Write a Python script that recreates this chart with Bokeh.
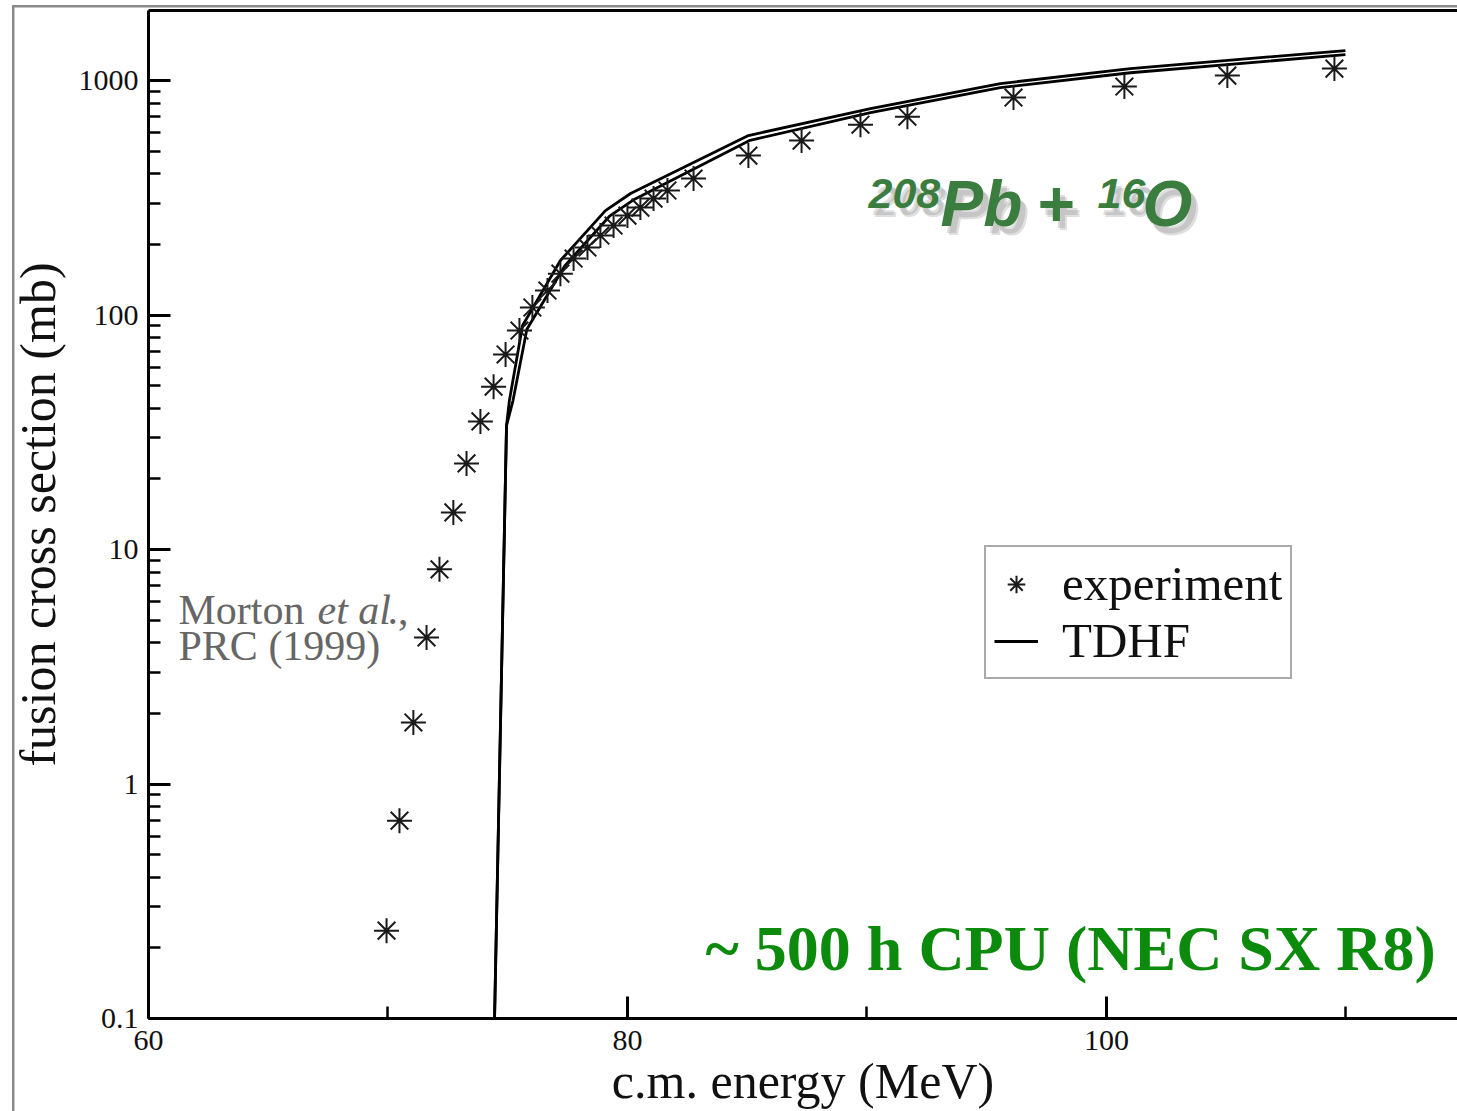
import numpy as np
from bokeh.plotting import figure
from bokeh.models import (Range1d, FixedTicker, CustomJSTickFormatter, LinearAxis,
                          Label, Legend, LegendItem)
from bokeh.embed import file_html
from bokeh.resources import INLINE

# Measured fusion cross sections (Morton et al., PRC 1999)
exp_energy = [69.94, 70.48, 71.06, 71.61, 72.15, 72.73, 73.28, 73.86, 74.41, 74.91,
              75.49, 76.03, 76.66, 77.20, 77.75, 78.33, 78.87, 79.42, 80.00, 80.54,
              81.09, 81.67, 82.76, 85.05, 87.27, 89.73, 91.69, 96.12, 100.75, 105.05,
              109.52]
exp_sigma = [0.237, 0.698, 1.83, 4.22, 8.23, 14.4, 23.3, 35.2, 49.5, 67.9,
             85.9, 107.7, 127.2, 150.2, 174.2, 194.0, 218.4, 240.9, 265.6, 287.3,
             313.8, 339.8, 382.0, 478.6, 554.6, 648.4, 701.5, 846.7, 942.9, 1050.0,
             1125.0]

# TDHF fusion cross sections (two close calculations)
tdhf_energy_a = [74.45, 74.95, 75.07, 75.62, 77.20, 79.08, 80.13, 85.05, 90.15, 95.57, 101.00, 109.98]
tdhf_sigma_a = [0.1, 33.8, 43.2, 90.2, 170.8, 279.0, 330.0, 583.0, 760.0, 971.0, 1125.0, 1343.0]
tdhf_energy_b = [74.45, 74.95, 75.22, 75.80, 77.38, 79.25, 80.30, 85.12, 90.15, 95.57, 101.00, 109.98]
tdhf_sigma_b = [0.1, 33.8, 43.2, 87.0, 162.0, 264.0, 312.0, 556.0, 730.0, 933.0, 1080.0, 1290.0]

x_major_ticks = [60, 80, 100]
x_minor_ticks = [70, 90, 110]
y_major_ticks = [0.1, 1, 10, 100, 1000]
y_minor_ticks = [k * 10.0 ** d for d in range(-1, 4) for k in range(2, 10) if k * 10.0 ** d < 2000]

X0, X1 = 60, 114.66
Y0, Y1 = 0.1, 1990

p = figure(width=1457, height=1111, y_axis_type="log",
           x_range=Range1d(X0, X1), y_range=Range1d(Y0, Y1),
           output_backend="svg", toolbar_location=None,
           min_border_left=148, min_border_right=0, min_border_top=10, min_border_bottom=93,
           background_fill_color="white", border_fill_color=None)
# thin gray page frame along the left and top edges
p.styles = {"background-color": "white",
            "box-shadow": "inset 12px 5px 0 0 white, inset 14.5px 7.5px 0 0 #8a8a8a"}
p.outline_line_color = None
p.xgrid.visible = False
p.ygrid.visible = False

SERIF = "Liberation Serif"


def style_axis(ax):
    ax.axis_line_width = 3
    ax.axis_line_color = "black"
    ax.major_tick_in = 22
    ax.major_tick_out = 0
    ax.minor_tick_in = 12
    ax.minor_tick_out = 0
    ax.major_tick_line_width = 3
    ax.minor_tick_line_width = 2.5
    ax.major_tick_line_color = "black"
    ax.minor_tick_line_color = "black"
    ax.major_label_text_font = SERIF
    ax.major_label_text_font_size = "30px"
    ax.major_label_text_color = "#111111"
    ax.axis_label_text_font = SERIF
    ax.axis_label_text_font_size = "50px"
    ax.axis_label_text_font_style = "normal"
    ax.axis_label_text_color = "#111111"


xa = p.xaxis[0]
xa.ticker = FixedTicker(ticks=x_major_ticks, minor_ticks=x_minor_ticks)
style_axis(xa)
xa.major_label_standoff = 12
xa.axis_label = "c.m. energy (MeV)"
xa.axis_label_standoff = 0

ya = p.yaxis[0]
ya.ticker = FixedTicker(ticks=y_major_ticks, minor_ticks=y_minor_ticks)
ya.formatter = CustomJSTickFormatter(code="return tick.toString();")
style_axis(ya)
ya.major_label_standoff = 10
ya.axis_label = "fusion cross section (mb)"
ya.axis_label_standoff = 10

top = LinearAxis(ticker=FixedTicker(ticks=[]), major_label_text_font_size="0px",
                 axis_line_width=3, axis_line_color="black",
                 major_tick_line_color=None, minor_tick_line_color=None)
p.add_layout(top, "above")

# TDHF curves
line_a = p.line(tdhf_energy_a, tdhf_sigma_a, line_color="black", line_width=2.8)
line_b = p.line(tdhf_energy_b, tdhf_sigma_b, line_color="black", line_width=2.8)

# experimental points
exp_r = p.scatter(exp_energy, exp_sigma, marker="asterisk", size=25,
                  line_color="#1a1a1a", line_width=2)

legend = Legend(items=[LegendItem(label="experiment", renderers=[exp_r]),
                       LegendItem(label="TDHF", renderers=[line_a])],
                location=(836, 339), orientation="vertical")
legend.border_line_color = "#555555"
legend.border_line_width = 2
legend.background_fill_color = "white"
legend.background_fill_alpha = 1.0
legend.label_text_font = SERIF
legend.label_text_font_size = "49px"
legend.label_text_line_height = 1.0
legend.label_text_color = "#111111"
legend.glyph_width = 44
legend.glyph_height = 50
legend.label_height = 50
legend.label_standoff = 24
legend.spacing = 0
legend.padding = 8
legend.margin = 0
p.add_layout(legend)


# annotation placement helpers (canvas pixel -> data)
def ex(px):
    return X0 + (px - 148) * (X1 - X0) / (1457 - 148)


def sy(py):
    return 10 ** (np.log10(Y1) - (py - 10) * (np.log10(Y1) - np.log10(Y0)) / (1018 - 10))


def add_text(px, py, text, size, font=SERIF, style="normal", color="black", alpha=1.0):
    p.add_layout(Label(x=ex(px), y=sy(py), text=text, text_font=font,
                       text_font_size=size, text_font_style=style, text_color=color,
                       text_alpha=alpha, text_baseline="alphabetic", text_align="left"))


# reference
GRAY = "#666666"
add_text(178, 609, "Morton", "42px", color=GRAY)
add_text(317, 609, "et al", "42px", style="italic", color=GRAY)
add_text(387, 609, ".,", "42px", color=GRAY)
add_text(178, 645, "PRC (1999)", "42px", color=GRAY)

# reaction title with soft shadow
SANS = "Liberation Sans"
reaction = [(868, 193, "208", "43px"), (940, 203, "Pb", "64px"), (1036, 203, "+", "64px"),
            (1097, 193, "16", "43px"), (1142, 203, "O", "64px")]
for dx, dy in [(5, 7), (7, 9)]:
    for px, py, t, s in reaction:
        add_text(px + dx, py + dy, t, s, font=SANS, style="bold italic", color="#6e6e6e", alpha=0.22)
for px, py, t, s in reaction:
    add_text(px, py, t, s, font=SANS, style="bold italic", color="#3b7d3f")

add_text(705, 948, "~ 500 h CPU (NEC SX R8)", "64px", style="bold", color="#0b8a0b")

open("out.html", "w").write(file_html(p, INLINE))
